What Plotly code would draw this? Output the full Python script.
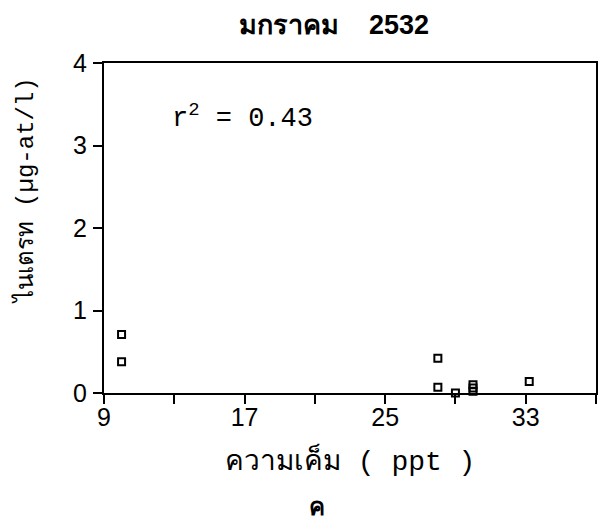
import plotly.graph_objects as go

salinity = [10.0, 10.0, 28.0, 28.0, 29.0, 30.0, 30.0, 30.0, 33.2]
nitrate = [0.71, 0.38, 0.42, 0.07, 0.0, 0.02, 0.06, 0.10, 0.14]
x_tickvals = [9, 17, 25, 33]
x_ticktext = ["9", "17", "25", "33"]
x_minor_tickvals = [13, 21, 29, 37]
y_tickvals = [0, 1, 2, 3, 4]
y_ticktext = ["0", "1", "2", "3", "4"]

title_text = "มกราคม&nbsp;&nbsp;&nbsp;&nbsp;2532"
x_title = "ความเค็ม ( ppt )"
y_title = "ไนเตรท (µg-at/l)"
r2_text = "r<sup>2</sup> = 0.43"
panel_label = "ค"

fig = go.Figure()
fig.add_trace(go.Scatter(
    x=salinity, y=nitrate, mode="markers",
    marker=dict(symbol="square-open", size=7, color="black", line=dict(width=2, color="black")),
    cliponaxis=False, showlegend=False,
))

axis_common = dict(showgrid=False, zeroline=False, showline=True, linecolor="black",
                   linewidth=2, mirror=True, ticks="outside", tickcolor="black",
                   tickwidth=2, ticklen=9,
                   tickfont=dict(family="Liberation Sans, Arial", size=25, color="black"))
fig.update_xaxes(range=[9, 37], tickmode="array", tickvals=x_tickvals, ticktext=x_ticktext,
                 ticklabelstandoff=-8,
                 minor=dict(tickvals=x_minor_tickvals, ticks="outside", ticklen=9,
                            tickwidth=2, tickcolor="black", showgrid=False),
                 **axis_common)
fig.update_yaxes(range=[0, 4], tickmode="array", tickvals=y_tickvals, ticktext=y_ticktext,
                 ticklabelstandoff=1, **axis_common)

mono = "Liberation Mono, Courier New, monospace"
fig.add_annotation(x=12.75, y=3.35, xref="x", yref="y", text=r2_text, showarrow=False,
                   xanchor="left", yanchor="middle", font=dict(family=mono, size=27, color="black"))
fig.add_annotation(x=0.5, y=-0.206, xref="paper", yref="paper", text=x_title, showarrow=False,
                   xanchor="center", yanchor="middle", font=dict(family=mono, size=28, color="black"))
fig.add_annotation(x=-0.16, y=0.612, xref="paper", yref="paper", text=y_title, showarrow=False,
                   xanchor="center", yanchor="middle",
                   textangle=-90, font=dict(family=mono, size=24, color="black"))
fig.add_annotation(x=0.433, y=-0.345, xref="paper", yref="paper", text="<b>" + panel_label + "</b>",
                   showarrow=False, xanchor="center", yanchor="middle",
                   font=dict(family="Liberation Sans, Arial", size=24, color="black"))
fig.add_annotation(x=0.467, y=1.115, xref="paper", yref="paper", text="<b>" + title_text + "</b>",
                   showarrow=False, xanchor="center", yanchor="middle",
                   font=dict(family="Liberation Sans, Arial", size=27, color="black"))

fig.update_layout(width=599, height=529, margin=dict(l=104, r=1, t=63, b=136),
                  paper_bgcolor="white", plot_bgcolor="white")
fig.write_html("out.html")
